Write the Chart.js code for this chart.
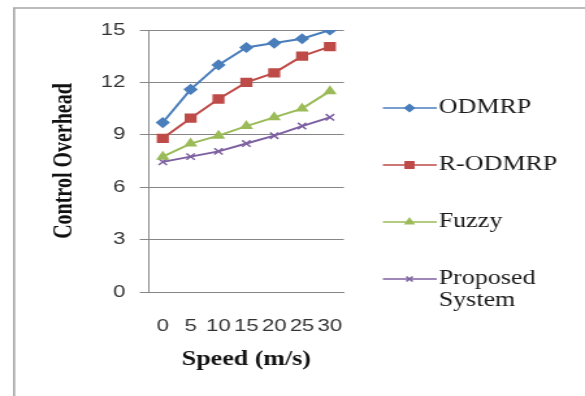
<!DOCTYPE html>
<html>
<head>
<meta charset="utf-8">
<script src="https://cdn.jsdelivr.net/npm/chart.js@4.4.0/dist/chart.umd.min.js"></script>
<style>
    html, body { margin: 0; padding: 0; background: #fff; overflow: hidden; }
    /* the chart is laid out narrow and widened, like the original export */
    #wrap {
        position: relative;
        width: 450px;
        height: 396px;
        transform: scaleX(1.3);
        transform-origin: 0 0;
    }
</style>
</head>
<body>
<div id="wrap"><canvas id="overheadChart"></canvas></div>
<script>
// Control overhead vs. node speed
const speeds = ['0', '5', '10', '15', '20', '25', '30'];
const odmrp = [9.7, 11.6, 13.0, 14.0, 14.25, 14.5, 15.0];
const rOdmrp = [8.8, 9.95, 11.05, 12.0, 12.55, 13.5, 14.05];
const fuzzy = [7.75, 8.5, 8.95, 9.5, 10.0, 10.5, 11.5];
const proposed = [7.45, 7.75, 8.05, 8.5, 8.95, 9.5, 10.0];
const yMin = 0;
const yMax = 15;
const yStep = 3;

const seriesNames = ['ODMRP', 'R-ODMRP', 'Fuzzy', ['Proposed', 'System']];

function makeSeries(label, data, color, pointStyle, radius) {
    return {
        label: label,
        data: data,
        borderColor: color,
        backgroundColor: color,
        borderWidth: 2,
        pointStyle: pointStyle,
        pointRadius: radius,
        pointBorderColor: color,
        pointBackgroundColor: color,
        pointBorderWidth: 1.5,
        tension: 0,
        fill: false
    };
}

// Legend on the right: line + marker, then the name (wraps to 2 lines)
const sideLegend = {
    id: 'sideLegend',
    afterDraw(chart) {
        const ctx = chart.ctx;
        const rows = [108, 165, 222, 279];
        ctx.save();
        chart.data.datasets.forEach((ds, i) => {
            const y = rows[i];
            ctx.strokeStyle = ds.borderColor;
            ctx.lineWidth = 1.5;
            ctx.beginPath();
            ctx.moveTo(294.5, y);
            ctx.lineTo(336, y);
            ctx.stroke();

            ctx.fillStyle = ds.pointBackgroundColor;
            ctx.strokeStyle = ds.pointBorderColor;
            ctx.lineWidth = ds.pointBorderWidth;
            Chart.helpers.drawPoint(ctx, {
                pointStyle: ds.pointStyle,
                radius: ds.pointRadius - 1,
                rotation: 0,
                borderWidth: ds.pointBorderWidth
            }, 315, y);

            const name = seriesNames[i];
            const lines = Array.isArray(name) ? name : [name];
            ctx.fillStyle = '#1a1a1a';
            ctx.font = '20px "Liberation Serif", serif';
            ctx.textBaseline = 'middle';
            ctx.textAlign = 'left';
            lines.forEach((txt, k) => ctx.fillText(txt, 337.5, y + k * 22));
        });
        ctx.restore();
    }
};

// Thin grey frame along the top and left edges
const frame = {
    id: 'frame',
    beforeDraw(chart) {
        const ctx = chart.ctx;
        ctx.save();
        ctx.strokeStyle = '#a6a6a6';
        ctx.lineWidth = 1.6;
        ctx.beginPath();
        ctx.moveTo(10.8, 396);
        ctx.lineTo(10.8, 8);
        ctx.lineTo(450, 8);
        ctx.stroke();
        ctx.restore();
    }
};

const ctx = document.getElementById('overheadChart');
new Chart(ctx, {
    type: 'line',
    data: {
        labels: speeds,
        datasets: [
            makeSeries('ODMRP', odmrp, '#4a7ebb', 'rectRot', 4.5),
            makeSeries('R-ODMRP', rOdmrp, '#be4b48', 'rect', 5.5),
            makeSeries('Fuzzy', fuzzy, '#9bbb59', 'triangle', 4.5),
            makeSeries('Proposed System', proposed, '#7d60a0', 'crossRot', 4.5)
        ]
    },
    options: {
        responsive: true,
        maintainAspectRatio: false,
        animation: false,
        devicePixelRatio: 1,
        layout: {
            padding: { top: 30, right: 185.5, bottom: 0, left: 0 }
        },
        plugins: {
            legend: { display: false },
            tooltip: { enabled: false }
        },
        scales: {
            x: {
                offset: true,
                grid: { display: false, drawTicks: false },
                border: { display: true, color: '#868686', width: 1 },
                ticks: {
                    autoSkip: false,
                    maxRotation: 0,
                    padding: 24,
                    color: '#333',
                    font: { family: '"Liberation Sans", Arial, sans-serif', size: 17 }
                },
                title: {
                    display: true,
                    text: 'Speed (m/s)',
                    color: '#111',
                    padding: { top: 0, bottom: 24 },
                    font: { family: '"Liberation Serif", serif', size: 20, weight: 'bold' }
                },
                afterFit(scale) {
                    scale.height = 104;
                }
            },
            y: {
                min: yMin,
                max: yMax,
                grid: {
                    color: '#868686',
                    lineWidth: 1,
                    drawTicks: true,
                    tickLength: 7
                },
                border: { display: true, color: '#868686', width: 1 },
                ticks: {
                    stepSize: yStep,
                    padding: 11,
                    color: '#333',
                    font: { family: '"Liberation Sans", Arial, sans-serif', size: 17 }
                },
                title: {
                    display: true,
                    text: 'Control Overhead',
                    color: '#111',
                    padding: { top: 38, bottom: 0 },
                    font: { family: '"Liberation Serif", serif', size: 20, weight: 'bold' }
                },
                afterFit(scale) {
                    scale.width = 114.5;
                }
            }
        }
    },
    plugins: [frame, sideLegend]
});
</script>
</body>
</html>
